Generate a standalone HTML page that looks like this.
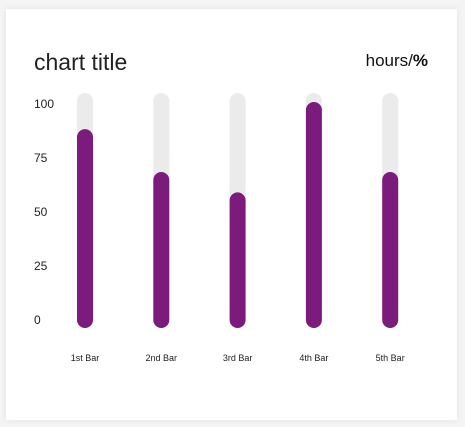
<!DOCTYPE html>
<html><head><meta charset="utf-8"><style>
body{margin:0;width:465px;height:427px;background:#f4f4f4;font-family:"Liberation Sans",sans-serif;overflow:hidden}
#card{position:absolute;left:6px;top:9px;width:451px;height:411px;background:#fff;box-shadow:0 0 6px rgba(0,0,0,0.08)}
</style></head><body>
<div id="card"></div>
<svg width="465" height="427" style="position:absolute;left:0;top:0">
<text x="34" y="70" font-size="23" fill="#222">chart title</text>
<text x="428" y="66" font-size="17" fill="#111" text-anchor="end">hours/<tspan font-weight="bold">%</tspan></text>
<g id="yaxis"></g>
<g id="bars"></g>
</svg>
<script>
const categories=["1st Bar","2nd Bar","3rd Bar","4th Bar","5th Bar"];
const values=[88,69,60,100,69];
const yTicks=[0,25,50,75,100];
const NS="http://www.w3.org/2000/svg";
const baseY=328, scale=2.26, trackMax=104;
const x=i=>85+i*76.3;
const y=v=>baseY-v*scale;
const tickY=v=>319-v*2.16;
const ya=document.getElementById('yaxis');
yTicks.forEach(t=>{const e=document.createElementNS(NS,'text');


e.setAttribute('x',34);e.setAttribute('y',tickY(t)+5);e.setAttribute('font-size','12');e.setAttribute('fill','#222');e.textContent=t;ya.appendChild(e);});
const g=document.getElementById('bars');
categories.forEach((c,i)=>{
const tr=document.createElementNS(NS,'rect');


tr.setAttribute('x',x(i)-8);tr.setAttribute('y',y(trackMax));tr.setAttribute('width',16);tr.setAttribute('height',baseY-y(trackMax));tr.setAttribute('rx',8);tr.setAttribute('fill','#ebebeb');g.appendChild(tr);
const b=document.createElementNS(NS,'rect');


b.setAttribute('x',x(i)-8);b.setAttribute('y',y(values[i]));b.setAttribute('width',16);b.setAttribute('height',baseY-y(values[i]));b.setAttribute('rx',8);b.setAttribute('fill','#7b1c7d');g.appendChild(b);
const l=document.createElementNS(NS,'text');


l.setAttribute('x',x(i));l.setAttribute('y',361);l.setAttribute('font-size','9');l.setAttribute('fill','#222');l.setAttribute('text-anchor','middle');l.textContent=c;g.appendChild(l);
});
</script>
</body></html>
